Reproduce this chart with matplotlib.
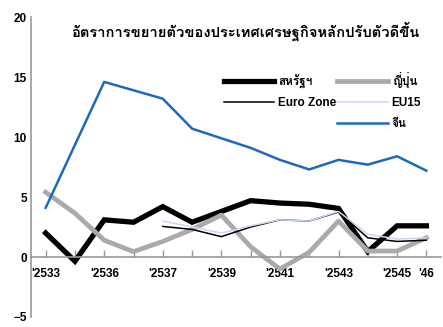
import numpy as np
import matplotlib
matplotlib.use("Agg")
from matplotlib import pyplot as plt
from matplotlib.lines import Line2D

plt.rcParams['font.family'] = ['Liberation Sans', 'Loma', 'Noto Sans Thai Looped', 'DejaVu Sans']

nan = np.nan
# one point per year, 2533 .. 2546
tick_labels = ["'2533", "", "'2536", "", "'2537", "", "'2539", "", "'2541", "", "'2543", "", "'2545", "'46"]

us = [2.0, -0.35, 3.1, 2.9, 4.2, 2.9, 3.8, 4.7, 4.5, 4.4, 4.05, 0.45, 2.6, 2.6]
japan = [5.4, 3.65, 1.4, 0.45, 1.3, 2.3, 3.5, 0.85, -1.0, 0.4, 3.0, 0.5, 0.5, 1.6]
euro_zone = [nan, nan, nan, nan, 2.55, 2.3, 1.7, 2.5, 3.1, 3.0, 3.75, 1.6, 1.3, 1.4]
eu15 = [nan, nan, nan, nan, 3.0, 2.5, 2.0, 2.6, 3.1, 3.0, 3.8, 1.9, 1.5, 1.6]
china = [4.1, 9.35, 14.6, 13.9, 13.2, 10.7, 9.9, 9.1, 8.1, 7.3, 8.1, 7.7, 8.4, 7.2]

x = np.arange(len(tick_labels))

fig = plt.figure(figsize=(4.43, 3.27), dpi=100)
ax = fig.add_axes([0.070, 0.0306, 0.9255, 0.917])

l_us, = ax.plot(x, us, color='black', lw=3.8, solid_joinstyle='miter')
l_jp, = ax.plot(x, japan, color='#aaaaaa', lw=3.4)
l_ez, = ax.plot(x, euro_zone, color='black', lw=1.1)
l_eu, = ax.plot(x, eu15, color='#c8d6ef', lw=1.1)
l_cn, = ax.plot(x, china, color='#1c6ac0', lw=1.8)

ax.set_xlim(-0.5, 13.5)
ax.set_ylim(-5, 20)
ax.set_yticks([-5, 0, 5, 10, 15, 20])
ax.set_xticks(x)
ax.set_xticklabels(tick_labels)

for s in ['top', 'right']:
    ax.spines[s].set_visible(False)
ax.spines['left'].set_color('#999999')
ax.spines['left'].set_linewidth(1.2)
ax.spines['bottom'].set_position(('data', 0))
ax.spines['bottom'].set_color('#999999')
ax.spines['bottom'].set_linewidth(1.2)

ax.tick_params(axis='y', length=0, pad=3, labelsize=8.5)
ax.tick_params(axis='x', direction='in', length=5, width=1, color='#999999', pad=8, labelsize=8.5)
for lab in ax.get_xticklabels() + ax.get_yticklabels():
    lab.set_fontweight('bold')

fig.text(0.553, 0.905, 'อัตราการขยายตัวของประเทศเศรษฐกิจหลักปรับตัวดีขึ้น',
         ha='center', va='center', fontsize=10.6, fontweight='bold')

blank = Line2D([], [], color='none')
ax.legend([l_us, l_ez, blank, l_jp, l_eu, l_cn],
          ['สหรัฐฯ', 'Euro Zone', '', 'ญี่ปุ่น', 'EU15', 'จีน'],
          ncol=2, loc='upper left', bbox_to_anchor=(0.444, 0.852),
          frameon=False, handlelength=4.3, handletextpad=0.3,
          columnspacing=0.1, labelspacing=0.75,
          prop={'weight': 'bold', 'size': 8.5})

fig.savefig('out.png')
